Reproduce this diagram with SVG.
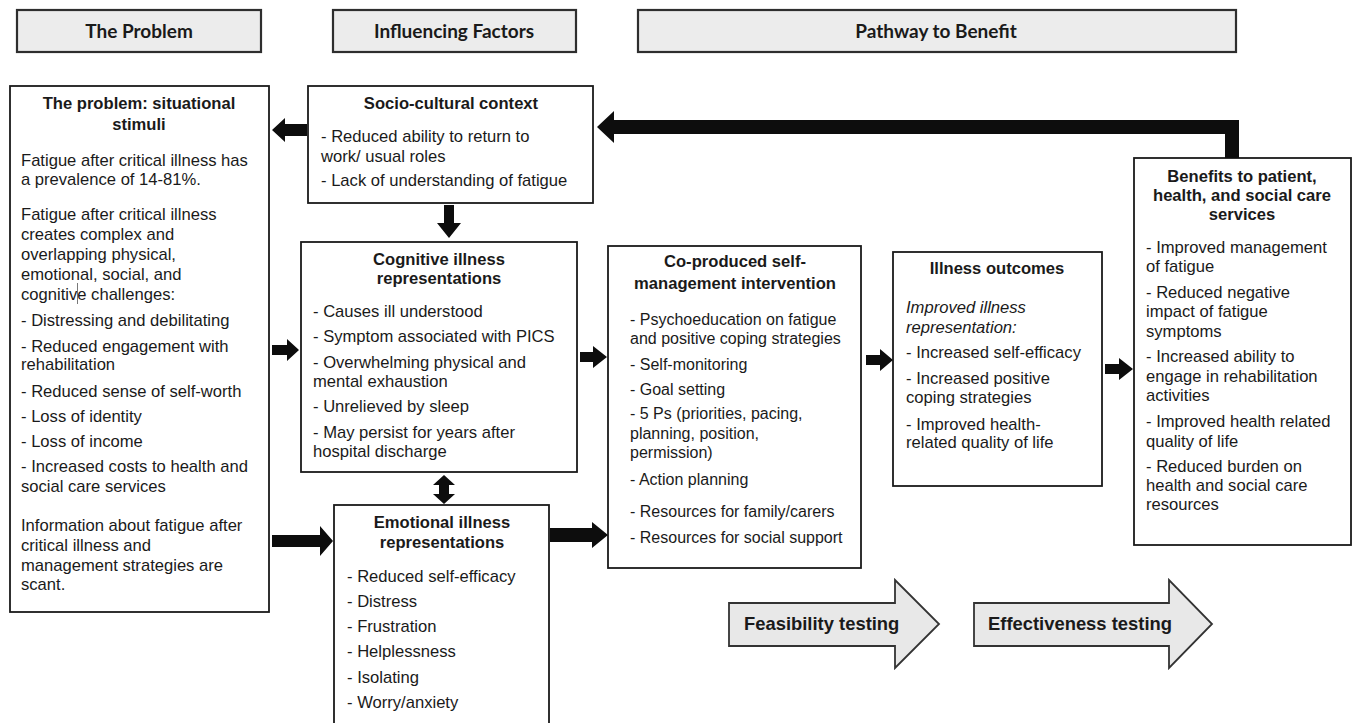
<svg xmlns="http://www.w3.org/2000/svg" width="1353" height="723" viewBox="0 0 1353 723">
<style>
.bg{fill:#ffffff}
.hdr{fill:#ececec;stroke:#2e2e2e;stroke-width:2.2}
.ht{font-family:Lato,"Liberation Sans",sans-serif;font-weight:bold;font-size:19px;fill:#1a1a1a;text-anchor:middle}
.box{fill:#ffffff;stroke:#1a1a1a;stroke-width:1.8}
.t{font-family:"Liberation Sans",Arial,sans-serif;font-size:16.6px;fill:#1a1a1a}
.s{font-size:16px}
.b{font-weight:bold}
.c{text-anchor:middle}
.i{font-style:italic}
.arr{fill:#0d0d0d}
.blk{fill:#e8e8e8;stroke:#333333;stroke-width:1.8}
.bt{font-family:"Liberation Sans",Arial,sans-serif;font-size:18.4px;font-weight:bold;fill:#1a1a1a}
</style>
<rect class="bg" x="0" y="0" width="1353" height="723"/>

<g id="header-problem">
<rect class="hdr" x="17" y="10" width="244" height="42"/>
<text class="ht" x="139" y="38">The Problem</text>
</g>
<g id="header-factors">
<rect class="hdr" x="333" y="10" width="243" height="42"/>
<text class="ht" x="454" y="38">Influencing Factors</text>
</g>
<g id="header-pathway">
<rect class="hdr" x="638" y="10" width="598" height="42"/>
<text class="ht" x="936" y="38">Pathway to Benefit</text>
</g>

<g id="problem">
<rect class="box" x="10" y="86" width="259" height="526"/>
<text class="t b c" x="139" y="109">The problem: situational</text>
<text class="t b c" x="139" y="130">stimuli</text>
<text class="t" x="21" y="166">Fatigue after critical illness has</text>
<text class="t" x="21" y="185">a prevalence of 14-81%.</text>
<text class="t" x="21" y="220">Fatigue after critical illness</text>
<text class="t" x="21" y="240">creates complex and</text>
<text class="t" x="21" y="260">overlapping physical,</text>
<text class="t" x="21" y="280">emotional, social, and</text>
<text class="t" x="21" y="300">cognitive challenges:</text>
<line x1="77.5" y1="283" x2="77.5" y2="304" stroke="#555" stroke-width="0.8"/>
<text class="t" x="21" y="326">- Distressing and debilitating</text>
<text class="t" x="21" y="352">- Reduced engagement with</text>
<text class="t" x="21" y="370">rehabilitation</text>
<text class="t" x="21" y="397">- Reduced sense of self-worth</text>
<text class="t" x="21" y="422">- Loss of identity</text>
<text class="t" x="21" y="447">- Loss of income</text>
<text class="t" x="21" y="472">- Increased costs to health and</text>
<text class="t" x="21" y="492">social care services</text>
<text class="t" x="21" y="531">Information about fatigue after</text>
<text class="t" x="21" y="551">critical illness and</text>
<text class="t" x="21" y="571">management strategies are</text>
<text class="t" x="21" y="590">scant.</text>
</g>

<g id="socio">
<rect class="box" x="308" y="86" width="285" height="117"/>
<text class="t b c" x="451" y="109">Socio-cultural context</text>
<text class="t" x="321" y="142">- Reduced ability to return to</text>
<text class="t" x="321" y="162">work/ usual roles</text>
<text class="t" x="321" y="186">- Lack of understanding of fatigue</text>
</g>

<g id="cognitive">
<rect class="box" x="301" y="242" width="276" height="230"/>
<text class="t b c" x="439" y="265">Cognitive illness</text>
<text class="t b c" x="439" y="284">representations</text>
<text class="t" x="313" y="317">- Causes ill understood</text>
<text class="t" x="313" y="342">- Symptom associated with PICS</text>
<text class="t" x="313" y="368">- Overwhelming physical and</text>
<text class="t" x="313" y="387">mental exhaustion</text>
<text class="t" x="313" y="412">- Unrelieved by sleep</text>
<text class="t" x="313" y="438">- May persist for years after</text>
<text class="t" x="313" y="457">hospital discharge</text>
</g>

<g id="emotional">
<rect class="box" x="334" y="505" width="215" height="240"/>
<text class="t b c" x="442" y="528">Emotional illness</text>
<text class="t b c" x="442" y="548">representations</text>
<text class="t" x="347" y="582">- Reduced self-efficacy</text>
<text class="t" x="347" y="607">- Distress</text>
<text class="t" x="347" y="632">- Frustration</text>
<text class="t" x="347" y="657">- Helplessness</text>
<text class="t" x="347" y="683">- Isolating</text>
<text class="t" x="347" y="708">- Worry/anxiety</text>
</g>

<g id="intervention">
<rect class="box" x="608" y="246" width="253" height="322"/>
<text class="t b c" x="735" y="267">Co-produced self-</text>
<text class="t b c" x="735" y="289">management intervention</text>
<text class="t s" x="630" y="325">- Psychoeducation on fatigue</text>
<text class="t s" x="630" y="344">and positive coping strategies</text>
<text class="t s" x="630" y="370">- Self-monitoring</text>
<text class="t s" x="630" y="395">- Goal setting</text>
<text class="t s" x="630" y="419">- 5 Ps (priorities, pacing,</text>
<text class="t s" x="630" y="439">planning, position,</text>
<text class="t s" x="630" y="458">permission)</text>
<text class="t s" x="630" y="485">- Action planning</text>
<text class="t s" x="630" y="517">- Resources for family/carers</text>
<text class="t s" x="630" y="543">- Resources for social support</text>
</g>

<g id="outcomes">
<rect class="box" x="893" y="252" width="209" height="234"/>
<text class="t b c" x="997" y="274">Illness outcomes</text>
<text class="t i" x="906" y="313">Improved illness</text>
<text class="t i" x="906" y="333">representation:</text>
<text class="t" x="906" y="358">- Increased self-efficacy</text>
<text class="t" x="906" y="384">- Increased positive</text>
<text class="t" x="906" y="403">coping strategies</text>
<text class="t" x="906" y="430">- Improved health-</text>
<text class="t" x="906" y="448">related quality of life</text>
</g>

<g id="benefits">
<rect class="box" x="1134" y="158" width="217" height="387"/>
<text class="t b c" x="1242" y="182">Benefits to patient,</text>
<text class="t b c" x="1242" y="201">health, and social care</text>
<text class="t b c" x="1242" y="220">services</text>
<text class="t" x="1146" y="253">- Improved management</text>
<text class="t" x="1146" y="272">of fatigue</text>
<text class="t" x="1146" y="298">- Reduced negative</text>
<text class="t" x="1146" y="317">impact of fatigue</text>
<text class="t" x="1146" y="337">symptoms</text>
<text class="t" x="1146" y="362">- Increased ability to</text>
<text class="t" x="1146" y="382">engage in rehabilitation</text>
<text class="t" x="1146" y="401">activities</text>
<text class="t" x="1146" y="427">- Improved health related</text>
<text class="t" x="1146" y="447">quality of life</text>
<text class="t" x="1146" y="472">- Reduced burden on</text>
<text class="t" x="1146" y="491">health and social care</text>
<text class="t" x="1146" y="510">resources</text>
</g>

<g id="feasibility">
<polygon class="blk" points="729,603 895,603 895,580 939,624 895,668 895,646 729,646"/>
<text class="bt" x="744" y="630">Feasibility testing</text>
</g>
<g id="effectiveness">
<polygon class="blk" points="974,603 1169,603 1169,580 1212,624 1169,668 1169,646 974,646"/>
<text class="bt" x="988" y="630">Effectiveness testing</text>
</g>

<g id="connectors">
<polygon class="arr" points="307,124 285,124 285,118 272,130 285,142 285,136 307,136"/>
<polygon class="arr" points="444,205 454,205 454,223 461,223 449,238 437,223 444,223"/>
<polygon class="arr" points="272,345 287,345 287,339 299,350 287,361 287,355 272,355"/>
<polygon class="arr" points="272,535 320,535 320,526 333,541 320,556 320,547 272,547"/>
<polygon class="arr" points="444,475 455,485 449,485 449,494 455,494 444,504 433,494 439,494 439,485 433,485"/>
<polygon class="arr" points="580,352 593,352 593,346 607,357 593,368 593,362 580,362"/>
<polygon class="arr" points="550,528 592,528 592,522 608,535 592,548 592,542 550,542"/>
<polygon class="arr" points="866,355 880,355 880,349 893,360 880,371 880,365 866,365"/>
<polygon class="arr" points="1105,364 1119,364 1119,358 1133,369 1119,380 1119,374 1105,374"/>
<polygon class="arr" points="1225,158 1225,134 614,134 614,143 597,127 614,111 614,120 1239,120 1239,158"/>
</g>
</svg>
